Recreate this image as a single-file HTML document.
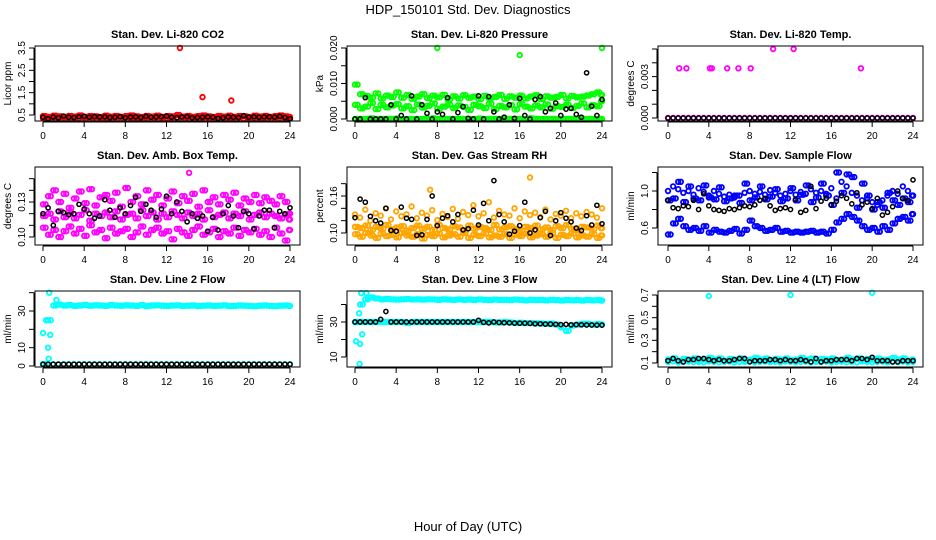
<!DOCTYPE html>
<html><head><meta charset="utf-8"><style>
html,body{margin:0;padding:0;background:#fff}
svg{display:block;font-family:"Liberation Sans",Arial,sans-serif}
</style></head><body>
<svg id="chart" width="936" height="540" viewBox="0 0 936 540" xmlns="http://www.w3.org/2000/svg">
<text x="468" y="14" font-size="13" text-anchor="middle">HDP_150101  Std. Dev. Diagnostics</text>
<text x="468" y="531" font-size="13" text-anchor="middle">Hour of Day (UTC)</text>
</svg>
<script>
const hours=[0,0.5,1,1.5,2,2.5,3,3.5,4,4.5,5,5.5,6,6.5,7,7.5,8,8.5,9,9.5,10,10.5,11,11.5,12,12.5,13,13.5,14,14.5,15,15.5,16,16.5,17,17.5,18,18.5,19,19.5,20,20.5,21,21.5,22,22.5,23,23.5,24];
const hoursQ=[0.25,0.75,1.25,1.75,2.25,2.75,3.25,3.75,4.25,4.75,5.25,5.75,6.25,6.75,7.25,7.75,8.25,8.75,9.25,9.75,10.25,10.75,11.25,11.75,12.25,12.75,13.25,13.75,14.25,14.75,15.25,15.75,16.25,16.75,17.25,17.75,18.25,18.75,19.25,19.75,20.25,20.75,21.25,21.75,22.25,22.75,23.25,23.75,23.9];
const xTicks=[0,4,8,12,16,20,24];
// P1 CO2
const co2A=[.45,.42,.47,.44,.41,.46,.43,.48,.42,.45,.44,.41,.47,.43,.46,.42,.45,.48,.44,.41,.46,.43,.47,.42,.45,.44,.5,.43,.46,.42,.45,.48,.44,.41,.46,.43,.47,.42,.45,.44,.41,.47,.43,.46,.42,.45,.48,.44,.41];
const co2B=[.36,.34,.38,.33,.37,.35,.36,.34,.38,.33,.37,.35,.36,.34,.38,.33,.37,.35,.36,.34,.38,.33,.37,.35,.36,.34,.38,.33,.37,.35,.36,.34,.38,.33,.37,.35,.36,.34,.38,.33,.37,.35,.36,.34,.38,.33,.37,.35,.34];
const co2K=[.4,.33,.41,.38,.45,.4,.39,.42,.44,.4,.43,.41,.42,.39,.4,.43,.38,.41,.42,.39,.44,.4,.41,.43,.45,.4,.38,.41,.43,.37,.39,.4,.42,.4,.35,.38,.41,.4,.39,.47,.4,.42,.4,.41,.42,.4,.44,.39,.33];
const co2OutH=[13.3,15.5,18.3];
const co2OutV=[3.5,1.3,1.15];
// P2 pressure
const prA=[.0097,.007,.0065,.006,.0072,.0058,.0066,.0062,.0075,.006,.0068,.0057,.0063,.007,.0059,.0066,.0061,.0068,.0055,.0064,.0058,.0067,.006,.0063,.0056,.0065,.0059,.0062,.0068,.0057,.0064,.006,.0066,.0058,.0063,.0067,.0056,.0064,.006,.0062,.0068,.0058,.0065,.0061,.0063,.0066,.007,.0075,.0068];
const prB=[.004,.003,.0035,.0045,.0028,.004,.0033,.0038,.0042,.003,.0036,.0025,.0041,.0032,.0037,.0044,.0029,.0035,.004,.0031,.0038,.0034,.0026,.004,.0036,.0031,.0043,.0028,.0037,.0033,.0039,.0027,.0042,.0035,.003,.0038,.0033,.0041,.0029,.0036,.0034,.004,.0031,.0037,.0044,.0033,.0039,.0036,.005];
const prC=[0,0,0,.0002,0,0,0,0,.0001,0,0,0,0,0,0,.0002,0,0,0,0,0,0,0,0,.0001,0,0,0,0,0,0,0,0,0,.0002,0,0,0,0,0,0,0,0,0,0,0,0,0,0];
const prK=[0,0,.006,0,0,0,0,.004,0,.001,0,.0065,0,.004,.0016,0,.002,.0013,.006,0,.0018,.0035,.0002,0,.0065,0,.0063,.002,0,.0005,.004,.0002,.0058,.001,0,.0055,.0063,.002,.003,.0045,.001,.0028,.003,.0013,.0005,.013,.0036,.001,.0055];
const prOutH=[8,16,24];
const prOutV=[.02,.018,.02];
// P3 Li-820 temp
const tmpA=[0,0,0,0,0,0,0,0,0,0,0,0,0,0,0,0,0,0,0,0,0,0,0,0,0,0,0,0,0,0,0,0,0,0,0,0,0,0,0,0,0,0,0,0,0,0,0,0,0];
const tmpOutH=[1.1,1.8,4.1,4.3,5.8,6.9,8.1,10.3,12.3,18.9];
const tmpOutV=[.0036,.0036,.0036,.0036,.0036,.0036,.0036,.005,.005,.0036];
// P4 amb box temp
const ambA=[.128,.135,.14,.13,.137,.125,.133,.139,.129,.141,.127,.134,.136,.131,.138,.126,.142,.13,.135,.128,.14,.132,.136,.127,.133,.139,.129,.135,.131,.137,.126,.14,.13,.134,.128,.136,.132,.138,.127,.133,.13,.136,.129,.134,.131,.128,.135,.13,.12];
const ambB=[.118,.12,.115,.122,.117,.121,.116,.119,.123,.114,.12,.118,.121,.117,.122,.115,.119,.12,.116,.123,.118,.121,.115,.12,.117,.122,.119,.116,.121,.118,.12,.115,.123,.117,.119,.121,.116,.12,.118,.122,.115,.119,.121,.117,.12,.118,.116,.119,.115];
const ambC=[.108,.102,.106,.1,.105,.109,.103,.107,.101,.11,.104,.106,.099,.108,.103,.105,.107,.1,.104,.109,.102,.106,.108,.103,.105,.098,.107,.104,.101,.106,.109,.102,.104,.107,.1,.105,.103,.108,.101,.106,.104,.107,.102,.105,.1,.108,.103,.097,.106];
const ambK=[.12,.125,.11,.122,.121,.119,.12,.128,.124,.12,.116,.118,.132,.123,.117,.125,.12,.127,.134,.122,.128,.123,.117,.124,.135,.12,.13,.122,.113,.12,.116,.118,.105,.117,.106,.12,.127,.118,.108,.122,.12,.107,.118,.123,.123,.108,.122,.12,.125];
const ambOutH=[14.2];
const ambOutV=[.155];
// P5 RH
const rhA=[.13,.125,.138,.12,.132,.128,.14,.122,.135,.127,.13,.143,.124,.133,.128,.137,.121,.131,.126,.139,.123,.134,.129,.145,.127,.132,.15,.125,.136,.13,.128,.14,.124,.135,.129,.133,.126,.138,.122,.131,.128,.136,.124,.132,.127,.134,.13,.125,.14];
const rhB=[.11,.108,.112,.105,.11,.107,.113,.106,.109,.111,.104,.108,.112,.107,.11,.105,.113,.108,.106,.111,.109,.104,.112,.107,.11,.108,.105,.113,.106,.109,.111,.107,.104,.11,.108,.112,.106,.109,.105,.111,.108,.113,.107,.104,.11,.109,.106,.112,.108];
const rhC=[.098,.094,.1,.096,.092,.099,.095,.097,.093,.1,.096,.094,.098,.091,.097,.095,.099,.093,.096,.098,.094,.1,.092,.097,.095,.099,.093,.096,.094,.098,.092,.097,.095,.099,.093,.096,.098,.094,.1,.092,.097,.095,.099,.093,.096,.094,.098,.092,.096];
const rhK=[.125,.155,.15,.127,.12,.116,.14,.104,.103,.142,.124,.122,.096,.097,.122,.16,.112,.124,.128,.118,.13,.105,.107,.137,.113,.148,.12,.185,.13,.118,.098,.103,.112,.15,.1,.105,.125,.135,.096,.12,.133,.124,.118,.108,.104,.128,.113,.145,.115];
const rhOutH=[7.3,17];
const rhOutV=[.17,.19];
// P6 sample flow
const sfA=[1.0,1.05,1.02,.98,1.0,.96,1.03,.99,.95,1.0,.97,.94,.96,.93,.95,.98,1.0,.97,.99,.96,1.01,.98,.95,.97,1.0,.96,.99,.97,1.02,.98,1.0,.97,1.03,.92,1.1,1.05,.98,.95,.9,.92,.88,.85,.9,.95,1.0,.97,1.05,1.0,.95];
const sfB=[.53,.65,.7,.62,.58,.6,.57,.62,.55,.58,.56,.55,.57,.59,.54,.58,.68,.62,.6,.57,.58,.6,.56,.57,.55,.56,.55,.56,.57,.55,.56,.54,.58,.66,.7,.75,.72,.68,.62,.58,.6,.56,.62,.58,.65,.7,.72,.68,.75];
const sfC=[.9,.92,1.1,.88,1.05,.92,.9,1.06,.93,.91,1.04,.89,.92,.95,.87,1.08,.9,.93,1.05,.91,.94,1.02,.89,.92,1.03,.9,.96,1.06,.88,.93,1.08,.95,.85,1.2,.98,1.18,1.15,.82,1.08,.95,.8,.88,.82,.98,.9,.85,.92,.88,.95];
const sfK=[.9,.82,.81,.84,.83,.9,.8,.97,.84,.8,.79,.78,.81,.8,.82,.84,.83,.85,.9,.92,.84,.79,.81,.82,.8,.91,.77,.79,1.05,.81,.89,.92,.85,.89,.95,.92,.86,.98,.85,.88,.81,.92,.74,.77,.83,1.0,.92,.9,1.12];
// P7 line 2
const l2A=[1,25,33,33.5,33,33.2,32.8,33,33.3,32.9,33.1,33,32.8,33.2,33,32.9,33.1,33,32.8,33.2,32.7,33,33.1,32.9,32.8,33,33.1,32.8,32.9,33,32.7,32.9,33,32.8,32.9,33.1,32.7,32.8,33,32.9,32.8,32.6,32.9,33,32.8,32.7,32.9,33,32.8];
const l2B=[1,1,1,1,1,1,1,1,1,1,1,1,1,1,1,1,1,1,1,1,1,1,1,1,1,1,1,1,1,1,1,1,1,1,1,1,1,1,1,1,1,1,1,1,1,1,1,1,1];
const l2K=[1,1,1,1,1,1,1,1,1,1,1,1,1,1,1,1,1,1,1,1,1,1,1,1,1,1,1,1,1,1,1,1,1,1,1,1,1,1,1,1,1,1,1,1,1,1,1,1,1];
const l2OutH=[0,0.3,0.5,0.55,0.6,0.7,1.3];
const l2OutV=[18,25,10,4,40,17,36];
// P8 line 3
const l3A=[30,40,43,44,43.5,43,43.2,43,42.8,43,43.1,42.9,43,42.8,43,42.9,42.7,43,42.8,42.6,42.9,42.7,42.8,42.6,42.9,42.7,42.5,42.8,42.6,42.7,42.5,42.8,42.6,42.4,42.7,42.5,42.6,42.4,42.7,42.5,42.3,42.6,42.4,42.5,42.3,42.6,42.4,42.5,42.3];
const l3B=[30,30,30,30,30,30,30,30,30,30,29.5,30,30,30,30,30,30,30,30,30,30,30,30,30,30,30,30,29.8,29.7,30,29.8,29.5,29.6,29.4,29.5,29.3,29.2,29,29.1,28.5,27,25,28,28.5,29,29,28.5,28.8,28.6];
const l3K=[30,30,30,30,30,31.5,36,30,30,30,30,30,30,30,30,30,30,30,30,30,30,30,30,30,31,29.8,29.5,30,29.7,29.6,29.5,29.4,29.3,29.3,29.2,29,29,28.8,28.8,28.7,28.5,28.6,28.4,28.5,28.4,28.3,28.3,28.2,28.2];
const l3OutH=[0.1,0.4,0.5,0.45,0.6,0.7,1.1];
const l3OutV=[19,35,17.5,6,46.5,23,46.5];
// P9 line 4
const l4A=[.13,.14,.12,.135,.13,.14,.125,.13,.145,.13,.14,.12,.135,.13,.14,.125,.13,.145,.13,.14,.12,.135,.13,.14,.125,.13,.145,.13,.14,.12,.135,.13,.14,.125,.13,.145,.13,.14,.12,.135,.13,.14,.125,.13,.145,.13,.14,.12,.13];
const l4B=[.11,.115,.105,.11,.112,.108,.11,.105,.113,.11,.107,.11,.112,.106,.11,.109,.113,.105,.11,.112,.108,.11,.105,.113,.11,.107,.11,.112,.106,.11,.109,.113,.105,.11,.112,.108,.11,.105,.113,.11,.107,.11,.112,.106,.11,.109,.113,.105,.11];
const l4K=[.12,.14,.12,.11,.13,.13,.14,.14,.13,.12,.13,.12,.12,.13,.14,.14,.11,.12,.12,.12,.13,.13,.12,.13,.12,.12,.13,.12,.11,.14,.11,.12,.12,.13,.13,.13,.12,.14,.14,.13,.15,.12,.12,.12,.11,.11,.12,.12,.12];
const l4OutH=[4,12,20];
const l4OutV=[.69,.70,.72];

const NS='http://www.w3.org/2000/svg';
const svg=document.getElementById('chart');
function el(tag,parent){const e=document.createElementNS(NS,tag);parent.appendChild(e);return e;}

const panels=[
 {key:'co2',title:'Stan. Dev. Li-820 CO2',yt:'Licor ppm',L:35,R:300,T:46,B:121,x0:43,x24:290,v0:0.5,p0:115,v1:3.5,p1:48,ticks:[0.5,1,1.5,2,2.5,3,3.5],labels:['0.5','1.5','2.5','3.5'],labelVals:[0.5,1.5,2.5,3.5],
  series:[[hours,co2B,'#ff0000'],[hoursQ,co2A,'#ff0000'],[hours,co2A,'#ff0000'],[co2OutH,co2OutV,'#ff0000'],[hours,co2K,'#000000']]},
 {key:'pressure',title:'Stan. Dev. Li-820 Pressure',yt:'kPa',L:347,R:612,T:46,B:121,x0:355,x24:602,v0:0,p0:119,v1:0.02,p1:48,ticks:[0,0.005,0.01,0.015,0.02],labels:['0.000','0.010','0.020'],labelVals:[0,0.01,0.02],
  series:[[hours,prC,'#00ff00'],[hoursQ,prC,'#00ff00'],[hours,prB,'#00ff00'],[hoursQ,prA,'#00ff00'],[hours,prA,'#00ff00'],[hoursQ,prB,'#00ff00'],[prOutH,prOutV,'#00ff00'],[hours,prK,'#000000']]},
 {key:'li820-temp',title:'Stan. Dev. Li-820 Temp.',yt:'degrees C',L:658,R:923,T:46,B:121,x0:668,x24:913,v0:0,p0:118,v1:0.005,p1:49,ticks:[0,0.001,0.002,0.003,0.004,0.005],labels:['0.000','0.003'],labelVals:[0,0.003],
  series:[[hours,tmpA,'#ff00ff'],[tmpOutH,tmpOutV,'#ff00ff'],[hours,tmpA,'#000000']]},
 {key:'amb-box-temp',title:'Stan. Dev. Amb. Box Temp.',yt:'degrees C',L:35,R:300,T:167,B:245,x0:43,x24:290,v0:0.10,p0:237,v1:0.13,p1:202,ticks:[0.10,0.11,0.12,0.13,0.14,0.15],labels:['0.10','0.13'],labelVals:[0.10,0.13],
  series:[[hours,ambA,'#ff00ff'],[hoursQ,ambB,'#ff00ff'],[hours,ambB,'#ff00ff'],[hoursQ,ambC,'#ff00ff'],[hours,ambC,'#ff00ff'],[hoursQ,ambA,'#ff00ff'],[ambOutH,ambOutV,'#ff00ff'],[hours,ambK,'#000000']]},
 {key:'gas-stream-rh',title:'Stan. Dev. Gas Stream RH',yt:'percent',L:347,R:612,T:167,B:245,x0:355,x24:602,v0:0.10,p0:233,v1:0.16,p1:196,ticks:[0.10,0.12,0.14,0.16,0.18],labels:['0.10','0.16'],labelVals:[0.10,0.16],
  series:[[hours,rhC,'#ffa500'],[hoursQ,rhB,'#ffa500'],[hours,rhB,'#ffa500'],[hoursQ,rhC,'#ffa500'],[hours,rhA,'#ffa500'],[rhOutH,rhOutV,'#ffa500'],[hours,rhK,'#000000']]},
 {key:'sample-flow',title:'Stan. Dev. Sample Flow',yt:'ml/min',L:658,R:923,T:167,B:245,x0:668,x24:913,v0:0.6,p0:228,v1:1.0,p1:191,ticks:[0.6,0.8,1.0,1.2],labels:['0.6','1.0'],labelVals:[0.6,1.0],
  series:[[hours,sfB,'#0000ff'],[hoursQ,sfB,'#0000ff'],[hours,sfA,'#0000ff'],[hoursQ,sfC,'#0000ff'],[hours,sfC,'#0000ff'],[hours,sfK,'#000000']]},
 {key:'line2-flow',title:'Stan. Dev. Line 2 Flow',yt:'ml/min',L:35,R:300,T:291,B:367,x0:43,x24:290,v0:0,p0:366,v1:30,p1:311,ticks:[0,10,20,30,40],labels:['0','10','30'],labelVals:[0,10,30],
  series:[[hours,l2A,'#00ffff'],[hoursQ,l2A,'#00ffff'],[hours,l2B,'#00ffff'],[l2OutH,l2OutV,'#00ffff'],[hours,l2K,'#000000']]},
 {key:'line3-flow',title:'Stan. Dev. Line 3 Flow',yt:'ml/min',L:347,R:612,T:291,B:367,x0:355,x24:602,v0:10,p0:357,v1:30,p1:322,ticks:[10,20,30,40],labels:['10','30'],labelVals:[10,30],
  series:[[hours,l3A,'#00ffff'],[hoursQ,l3A,'#00ffff'],[hours,l3B,'#00ffff'],[hoursQ,l3B,'#00ffff'],[l3OutH,l3OutV,'#00ffff'],[hours,l3K,'#000000']]},
 {key:'line4-flow',title:'Stan. Dev. Line 4 (LT) Flow',yt:'ml/min',L:658,R:923,T:291,B:367,x0:668,x24:913,v0:0.1,p0:363,v1:0.7,p1:295,ticks:[0.1,0.2,0.3,0.4,0.5,0.6,0.7],labels:['0.1','0.3','0.5','0.7'],labelVals:[0.1,0.3,0.5,0.7],
  series:[[hours,l4B,'#00ffff'],[hoursQ,l4A,'#00ffff'],[hours,l4A,'#00ffff'],[l4OutH,l4OutV,'#00ffff'],[hours,l4K,'#000000']]}
];

panels.forEach(p=>{
 const g=el('g',svg);
 
 
 const xs=h=>p.x0+(h/24)*(p.x24-p.x0);
 const ys=v=>p.p0+(v-p.v0)*(p.p1-p.p0)/(p.v1-p.v0);
 const t=el('text',g);
 
 
 t.setAttribute('x',(p.L+p.R)/2);t.setAttribute('y',p.T-8);t.setAttribute('font-size','11');t.setAttribute('font-weight','bold');t.setAttribute('text-anchor','middle');
 t.textContent=p.title;
 p.series.forEach((s,si)=>{
  const sg=el('g',g);
  
  
  const black=s[2]==='#000000';
  s[0].forEach((h,i)=>{
   const c=el('circle',sg);
   
   
   c.setAttribute('cx',xs(h).toFixed(1));c.setAttribute('cy',ys(s[1][i]).toFixed(1));
   c.setAttribute('r',black?2.1:2.3);c.setAttribute('fill','none');c.setAttribute('stroke',s[2]);c.setAttribute('stroke-width',black?1.5:1.8);
  });
 });
 const box=el('rect',g);
 
 
 box.setAttribute('x',p.L);box.setAttribute('y',p.T);box.setAttribute('width',p.R-p.L);box.setAttribute('height',p.B-p.T);box.setAttribute('fill','none');box.setAttribute('stroke','#000');box.setAttribute('stroke-width','1');
 const xa=el('line',g);
 
 
 xa.setAttribute('x1',xs(0));xa.setAttribute('x2',xs(24));xa.setAttribute('y1',p.B+1);xa.setAttribute('y2',p.B+1);xa.setAttribute('stroke','#000');
 xTicks.forEach(h=>{
  const tk=el('line',g);
  
  
  tk.setAttribute('x1',xs(h));tk.setAttribute('x2',xs(h));tk.setAttribute('y1',p.B+1);tk.setAttribute('y2',p.B+6);tk.setAttribute('stroke','#000');
  const tl=el('text',g);
  
  
  tl.setAttribute('x',xs(h));tl.setAttribute('y',p.B+18);tl.setAttribute('font-size','10');tl.setAttribute('text-anchor','middle');
  tl.textContent=String(h);
 });
 const ya=el('line',g);
 
 
 ya.setAttribute('x1',p.L-1);ya.setAttribute('x2',p.L-1);ya.setAttribute('y1',ys(p.ticks[0]));ya.setAttribute('y2',ys(p.ticks[p.ticks.length-1]));ya.setAttribute('stroke','#000');
 p.ticks.forEach(v=>{
  const tk=el('line',g);
  
  
  tk.setAttribute('x1',p.L-6);tk.setAttribute('x2',p.L-1);tk.setAttribute('y1',ys(v));tk.setAttribute('y2',ys(v));tk.setAttribute('stroke','#000');
 });
 p.labels.forEach((lab,i)=>{
  const y=ys(p.labelVals[i]);const x=p.L-10;
  const tl=el('text',g);
  
  
  tl.setAttribute('x',x);tl.setAttribute('y',y);tl.setAttribute('font-size','10');tl.setAttribute('text-anchor','middle');
  tl.setAttribute('transform','rotate(-90 '+x+' '+y+')');
  tl.textContent=lab;
 });
 const yt=el('text',g);
 
 
 const yx=p.L-24,yy=(p.T+p.B)/2;
 yt.setAttribute('x',yx);yt.setAttribute('y',yy);yt.setAttribute('font-size','10');yt.setAttribute('text-anchor','middle');
 yt.setAttribute('transform','rotate(-90 '+yx+' '+yy+')');
 yt.textContent=p.yt;
});
</script>
</body></html>
